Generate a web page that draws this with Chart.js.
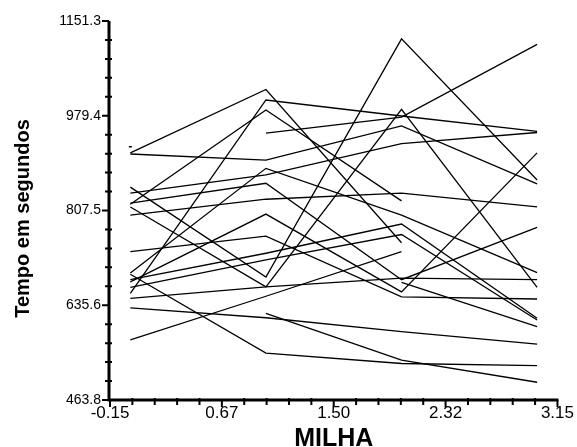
<!DOCTYPE html>
<html>
<head>
<meta charset="utf-8">
<script src="https://cdn.jsdelivr.net/npm/chart.js@4.4.1/dist/chart.umd.min.js"></script>
<style>
  body { margin: 0; background: #fff; }
  canvas { display: block; }
</style>
</head>
<body>
<canvas id="milhaChart" width="577" height="447"></canvas>
<script>
// Tempo por milha - one line per runner

// x positions (milha) and axis ticks
const milha = [0, 1, 2, 3]
const xTickValues = [-0.15, 0.675, 1.5, 2.325, 3.15]
const xTickLabels = ["-0.15", "0.67", "1.50", "2.32", "3.15"]
const yTickValues = [463.8, 635.675, 807.55, 979.425, 1151.3]
const yTickLabels = ["463.8", "635.6", "807.5", "979.4", "1151.3"]
const xTitle = "MILHA"
const yTitle = "Tempo em segundos"

// tempo em segundos for each runner (null = no observation)
const s01 = [912, 1027, 749, null]
const s02 = [910, 899, 961, 856]
const s03 = [814, 669, 991, 668]
const s04 = [850, 687, 1119, 863]
const s05 = [null, 948, 977, 1109]
const s06 = [657, 1008, 979, 951]
const s07 = [839, 872, 929, 949]
const s08 = [694, 884, 799, 695]
const s09 = [799, 828, 839, 814]
const s10 = [819, 990, 825, null]
const s11 = [678, 801, 660, 912]
const s12 = [733, 761, 651, 647]
const s13 = [821, 857, 682, 777]
const s14 = [682, 730, 783, 612]
const s15 = [668, 718, 764, 609]
const s16 = [573, 652, 733, null]
const s17 = [null, 621, 536, 496]
const s18 = [692, 549, 530, 526]
const s19 = [631, 613, 588, 565]
const s20 = [648, 669, 685, 682]
const s21 = [923, null, 677, 597]

const runners = [s01, s02, s03, s04, s05, s06, s07, s08, s09, s10, s11,
  s12, s13, s14, s15, s16, s17, s18, s19, s20, s21]

// Draw axis lines, major / minor tick marks and axis titles from the chart scales
const axisFrame = {
  id: "axisFrame",
  afterDraw(chart) {
    const { ctx, chartArea } = chart
    const xs = chart.scales.x
    const ys = chart.scales.y
    const left = chartArea.left - 1
    const bottom = chartArea.bottom
    ctx.save()
    ctx.strokeStyle = "#000"

    ctx.lineWidth = 3
    ctx.beginPath()
    ctx.moveTo(left, chartArea.top)
    ctx.lineTo(left, bottom + 1.5)
    ctx.moveTo(left - 1.5, bottom)
    ctx.lineTo(chartArea.right + 1, bottom)
    ctx.stroke()

    ctx.lineWidth = 2
    ctx.beginPath()
    yTickValues.forEach((v, i) => {
      const py = ys.getPixelForValue(v)
      ctx.moveTo(left - 7, py)
      ctx.lineTo(left, py)
      if (i < yTickValues.length - 1) {
        const step = (yTickValues[i + 1] - v) / 5
        for (let k = 1; k < 5; k++) {
          const my = ys.getPixelForValue(v + k * step)
          ctx.moveTo(left - 4, my)
          ctx.lineTo(left + 3, my)
        }
      }
    })
    xTickValues.forEach((v, i) => {
      const px = xs.getPixelForValue(v)
      ctx.moveTo(px, bottom)
      ctx.lineTo(px, bottom + 7)
      if (i < xTickValues.length - 1) {
        const step = (xTickValues[i + 1] - v) / 5
        for (let k = 1; k < 5; k++) {
          const mx = xs.getPixelForValue(v + k * step)
          ctx.moveTo(mx, bottom - 2)
          ctx.lineTo(mx, bottom + 5)
        }
      }
    })
    ctx.stroke()

    // axis titles
    ctx.fillStyle = "#000"
    ctx.textAlign = "center"
    ctx.textBaseline = "alphabetic"
    ctx.font = "bold 25px 'Liberation Sans', Arial"
    ctx.fillText(xTitle, (chartArea.left + chartArea.right) / 2, 446)
    ctx.translate(29, (chartArea.top + chartArea.bottom) / 2 + 8)
    ctx.rotate(-Math.PI / 2)
    ctx.font = "bold 20px 'Liberation Sans', Arial"
    ctx.fillText(yTitle, 0, 0)
    ctx.restore()
  },
}

const ctx = document.getElementById("milhaChart").getContext("2d")

new Chart(ctx, {
  type: "line",
  data: {
    datasets: runners.map((r) => ({
      data: r.map((t, i) => ({ x: milha[i], y: t })),
      borderColor: "#000",
      borderWidth: 1.3,
      fill: false,
      tension: 0,
      spanGaps: false,
      pointStyle: "line",
      pointRadius: (c) => {
        const prev = r[c.dataIndex - 1]
        const next = r[c.dataIndex + 1]
        return prev == null && next == null ? 1.5 : 0
      },
      pointBorderColor: "#000",
      pointBorderWidth: 1.5,
    })),
  },
  options: {
    responsive: false,
    animation: false,
    layout: { padding: { left: 0, right: 17, top: 21, bottom: 0 } },
    plugins: { legend: { display: false }, tooltip: { enabled: false } },
    scales: {
      x: {
        type: "linear",
        min: -0.15,
        max: 3.15,
        grid: { display: false, drawTicks: false },
        border: { display: false },
        afterBuildTicks: (s) => { s.ticks = xTickValues.map((v) => ({ value: v })) },
        afterFit: (s) => { s.height = 47 },
        ticks: {
          autoSkip: false,
          maxRotation: 0,
          padding: 3,
          color: "#000",
          font: { family: "Liberation Sans, Arial", size: 17 },
          callback: (v, i) => xTickLabels[i],
        },
      },
      y: {
        type: "linear",
        min: 463.8,
        max: 1151.3,
        grid: { display: false, drawTicks: false },
        border: { display: false },
        afterBuildTicks: (s) => { s.ticks = yTickValues.map((v) => ({ value: v })) },
        afterFit: (s) => { s.width = 110 },
        ticks: {
          autoSkip: false,
          padding: 9,
          color: "#000",
          font: { family: "Liberation Sans, Arial", size: 14 },
          callback: (v, i) => yTickLabels[i],
        },
      },
    },
  },
  plugins: [axisFrame],
})
</script>
</body>
</html>
